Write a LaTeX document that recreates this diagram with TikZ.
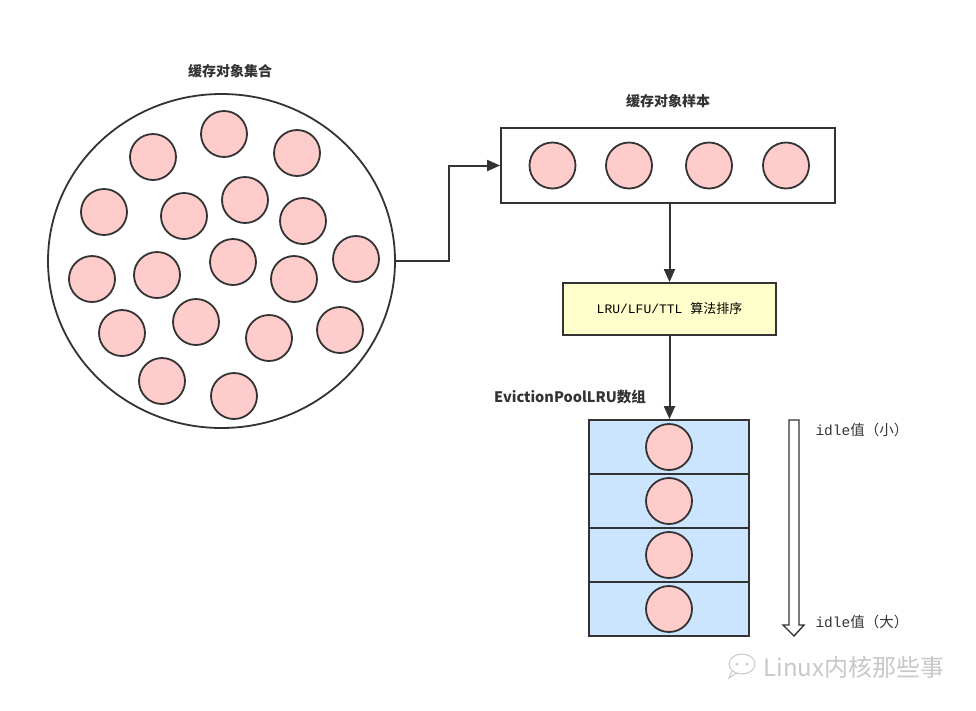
\documentclass[tikz,border=0pt]{standalone}
\usepackage{fontspec}
\setmainfont{Liberation Sans}
\newfontfamily\cjk{Noto Sans CJK SC}
\newfontfamily\monof{Liberation Mono}
\usetikzlibrary{arrows.meta,shapes.geometric}
\definecolor{ink}{HTML}{333333}
\definecolor{pinkf}{HTML}{FFCCCC}
\definecolor{yellowf}{HTML}{FFFFCC}
\definecolor{bluef}{HTML}{CCE5FF}
\definecolor{wm}{HTML}{C8C8C8}
\tikzset{
  ball/.style={circle,draw=ink,fill=pinkf,line width=1.8pt,minimum size=46pt,inner sep=0pt},
  boxline/.style={draw=ink,line width=1.8pt,inner sep=0pt},
  conn/.style={draw=ink,line width=2pt,-{Triangle[length=13pt,width=11pt]}},
  title/.style={font=\cjk\bfseries\fontsize{14}{16}\selectfont,text=ink},
  idletext/.style={font=\fontsize{14.5}{16}\selectfont,text=ink,anchor=west},
  cell/.style={boxline,fill=bluef,minimum width=160pt,minimum height=54pt}
}
\begin{document}
\begin{tikzpicture}[x=1pt,y=-1pt]
\useasboundingbox[fill=white] (0,0) rectangle (976,710);
% big pool
\node[ellipse,draw=ink,line width=1.8pt,minimum width=347pt,minimum height=334pt,inner sep=0pt] (pool) at (221.5,261) {};
\node[title] (pooltitle) at (230,71) {缓存对象集合};
\foreach \n/\x/\y in {a/224/134, b/297/153, c/153/157, d/104/212, e/184/216, f/245/200, g/303/221, h/356/259, i/92/279, j/157/275, k/233/262, l/294/279, m/122/333, n/196/322, o/269/338, p/340/330, q/162/381, r/234/396}
  \node[ball] (p\n) at (\x,\y) {};
% sample box
\node[boxline,minimum width=334pt,minimum height=75pt] (sample) at (668,165.5) {};
\node[title] (sampletitle) at (668,101) {缓存对象样本};
\foreach \n/\x in {1/552.5, 2/629, 3/709, 4/786}
  \node[ball] (s\n) at (\x,165.5) {};
% sort box
\node[boxline,fill=yellowf,minimum width=213pt,minimum height=52pt] (sort) at (669.5,309) {\fontsize{13}{15}\selectfont\monof LRU/LFU/TTL \cjk 算法排序};
% array
\node[cell] (r1) at (669,447) {};
\node[cell] (r2) at (669,501) {};
\node[cell] (r3) at (669,555) {};
\node[cell] (r4) at (669,609) {};
\foreach \k in {1,...,4} \node[ball] (b\k) at (r\k.center) {};
\node[title,font=\cjk\bfseries\fontsize{14.5}{16}\selectfont] (arrtitle) at (570,397) {EvictionPoolLRU数组};
% connectors
\draw[conn] (pool.east) -- ++(53,0) coordinate (bend) |- (sample.west);
\draw[conn] (sample.south -| sort.north) -- (sort.north);
\draw[conn] (sort.south) -- (sort.south |- r1.north);
% hollow arrow
\draw[draw=ink,line width=1.4pt,fill=white,line join=miter] (789,420) -- (799,420) -- (799,625) -- (804,625) -- (794,636) -- (783,625) -- (789,625) -- cycle;
\node[idletext] (small) at (812,430) {\monof idle\cjk 值（小）};
\node[idletext] (big) at (812,622) {\monof idle\cjk 值（大）};
% watermark
\draw[wm,line width=1pt] (742,664) ellipse (13pt and 10pt);
\draw[wm,line width=1pt] (732,671) -- (729,678) -- (737,673);
\fill[wm] (737,664) circle (1.5pt) (747,664) circle (1.5pt);
\node[text=wm,font=\cjk\fontsize{24}{26}\selectfont,anchor=west] (wmtext) at (760,667) {Linux内核那些事};
\end{tikzpicture}
\end{document}
